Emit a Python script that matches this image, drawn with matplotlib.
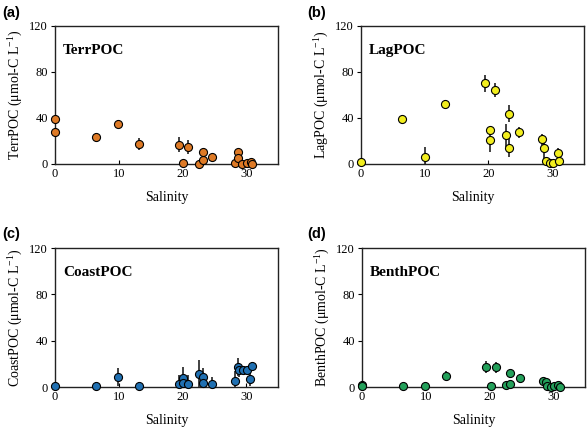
import matplotlib
matplotlib.use('Agg')
import matplotlib.pyplot as plt

plt.rcParams['mathtext.fontset'] = 'custom'
plt.rcParams['mathtext.rm'] = 'Liberation Serif'

# salinity / concentration / error for each source
terr_sal = [0, 0, 6.5, 9.9, 13.2, 19.5, 20.1, 20.9, 22.6, 23.2, 23.2, 24.7,
            28.2, 28.7, 28.8, 29.4, 30.1, 30.7, 30.9]
terr_poc = [39, 28, 23.7, 35, 17.4, 16.8, 1, 14.8, 0.3, 3.5, 10.4, 5.8,
            0.6, 10.7, 5.5, 0.3, 0.6, 1.5, 0]
terr_err = [2, 2, 3, 3.5, 5, 6.5, 1, 5.8, 1, 2, 3, 1.5,
            1, 2, 2, 1, 1, 1, 0.5]

lag_sal = [0, 6.5, 10.0, 13.2, 19.5, 20.2, 20.2, 21.0, 22.7, 23.3, 23.3, 24.8,
           28.4, 28.8, 29.0, 29.6, 30.2, 30.9, 31.0]
lag_poc = [1.5, 39, 5.8, 52.4, 70, 29.6, 20.6, 64, 25.2, 43.7, 14.2, 27.6,
           21.5, 13.6, 2.3, 0.6, 1.2, 9.3, 2.3]
lag_err = [1, 4, 9, 3, 7, 3, 10, 6, 10, 7.5, 8, 5,
           5, 10, 2, 1, 1, 5, 3]

coast_sal = [0, 6.5, 9.9, 13.2, 19.4, 20.1, 20.1, 20.9, 22.6, 23.2, 23.2, 24.7,
             28.2, 28.7, 28.9, 29.5, 30.1, 30.6, 30.9]
coast_poc = [0.6, 0.6, 8.7, 0.9, 2.5, 7.5, 3.5, 2.5, 11.3, 8.7, 3.8, 2.5,
             5.5, 17.3, 15, 14.5, 14.5, 6.7, 18.5]
coast_err = [1, 4, 8, 3, 8, 10, 3, 8, 12, 8, 3, 6,
             8, 8, 6, 3, 2, 6, 3]

benth_sal = [0, 0, 6.5, 9.9, 13.2, 19.5, 20.2, 21.0, 22.6, 23.3, 23.3, 24.8,
             28.4, 28.9, 29.0, 29.6, 30.2, 30.8, 31.0]
benth_poc = [2, 0.6, 0.6, 0.6, 9.8, 17.3, 0.6, 17, 1.5, 12.1, 2.3, 7.8,
             5.2, 4.3, 0.6, 0, 0.6, 2, 0.3]
benth_err = [1, 0.5, 0.5, 0.5, 4, 5, 0.5, 5, 1, 2, 1, 1.5,
             1, 1, 0.5, 0.5, 0.5, 1, 0.5]

panels = [
    ('(a)', 'TerrPOC', terr_sal, terr_poc, terr_err, '#DE7A26'),
    ('(b)', 'LagPOC', lag_sal, lag_poc, lag_err, '#F2EE1E'),
    ('(c)', 'CoastPOC', coast_sal, coast_poc, coast_err, '#2070B2'),
    ('(d)', 'BenthPOC', benth_sal, benth_poc, benth_err, '#23A05A'),
]

W, H = 587, 430
fig = plt.figure(figsize=(W / 100, H / 100), dpi=100)

# axes boxes in pixels: left, top, right, bottom
boxes = [(55, 26, 278, 164), (361, 26, 584, 164),
         (55, 248, 278, 387), (362, 248, 585, 387)]
label_pos = [(2, 13), (307, 13), (2, 234), (307, 234)]

serif = 'Liberation Serif'

for (tag, name, x, y, e, col), (l, t, r, b), (lx, ly) in zip(panels, boxes, label_pos):
    ax = fig.add_axes([l / W, 1 - b / H, (r - l) / W, (b - t) / H])
    ax.errorbar(x, y, yerr=e, fmt='none', ecolor='#333333', elinewidth=1.3,
                capsize=0, zorder=2)
    ax.plot(x, y, 'o', ms=5.8, mfc=col, mec='black', mew=0.8, zorder=3,
            clip_on=False)
    ax.set_xlim(0, 35)
    ax.set_ylim(0, 120)
    ax.set_xticks([0, 10, 20, 30])
    ax.set_yticks([0, 40, 80, 120])
    ax.tick_params(axis='x', direction='in', length=3, labelsize=9, pad=3)
    ax.tick_params(axis='y', direction='out', length=3, labelsize=9, pad=2)
    for lab in ax.get_xticklabels() + ax.get_yticklabels():
        lab.set_fontfamily(serif)
    for sp in ax.spines.values():
        sp.set_color('#222222')
        sp.set_linewidth(1.0)
    ax.set_xlabel('Salinity', fontfamily=serif, fontsize=10, labelpad=8)
    ax.set_ylabel(name + ' (\u03bcmol-C L$^{-1}$)', fontfamily=serif,
                  fontsize=10, labelpad=4)
    ax.text(0.036, 0.826, name, transform=ax.transAxes, fontfamily=serif,
            fontweight='bold', fontsize=11, ha='left', va='center')
    fig.text(lx / W, 1 - ly / H, tag, fontfamily='Liberation Sans',
             fontweight='bold', fontsize=10.5, ha='left', va='center')

plt.savefig('out.png', dpi=100)
